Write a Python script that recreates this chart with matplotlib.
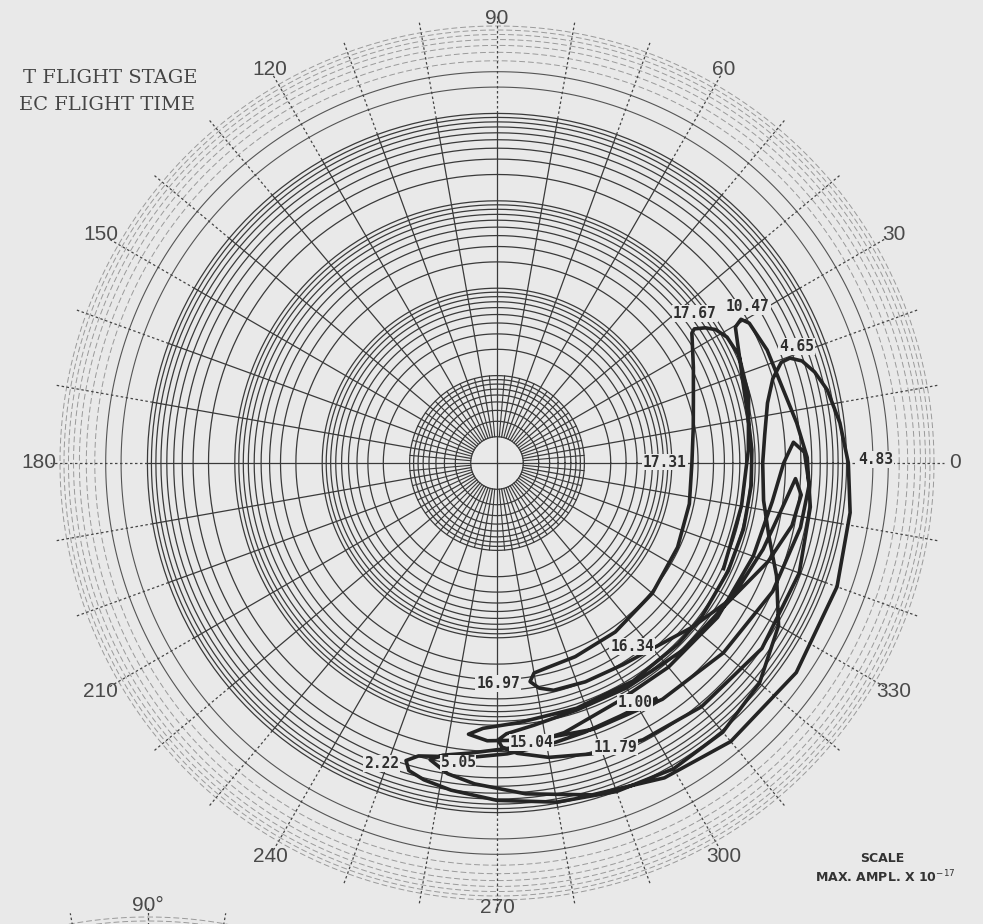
import numpy as np
import matplotlib.pyplot as plt

# ─── DATA ─────────────────────────────────────────────────────────────────────
# Trace: angle in degrees (kept continuous, negative = below the 0 line) and
# amplitude in decades from the centre of the log-polar chart.
trace_deg = [-56, -64, -72, -80, -88, -95, -101, -105, -107, -106, -103, -98,
             -90, -80, -70, -60, -50, -40, -30, -22, -15, -8, 0, 6, 12.5, 17,
             19.5, 19.7, 18.5, 16, 12.5, 6.7, 0, -8, -20, -35, -50, -62, -74,
             -85, -94, -99, -102.7, -100.5, -95, -86, -76, -63,
             -50, -35, -20, -8, 0, 4, 2, -4, -12, -25, -40, -55, -70, -82, -92,
             -96, -93, -85, -72, -58, -45,
             -37, -25, -15, -5, 3, 10.4, 18, 25, 29.7, 30.5, 29, 22.7, 15.8,
             7.6, 1, -8, -20, -35, -50, -62.2, -72, -80, -86, -89, -89.8, -88,
             -82, -72, -60, -45, -30, -18, -8, -3, -6, -12, -20, -30, -40,
             -48.2, -58, -68, -76, -79.4, -81.4, -80, -76, -68, -55, -40, -25,
             -12, 0, 10, 17.8, 26, 33.7, 34.2, 33, 31.4, 28.7, 24, 15, 3, -10,
             -25]
trace_dec = [3.25, 3.22, 3.24, 3.28, 3.33, 3.38, 3.42, 3.47, 3.56, 3.66, 3.72,
             3.78, 3.86, 3.94, 4.00, 4.04, 4.02, 3.92, 3.72, 3.45, 3.22, 3.08,
             3.04, 3.08, 3.17, 3.30, 3.45, 3.56, 3.68, 3.78, 3.87, 3.95, 4.02,
             4.08, 4.14, 4.18, 4.16, 4.08, 3.95, 3.80, 3.68, 3.60, 3.48, 3.40,
             3.33, 3.26, 3.18, 3.06,
             3.05, 3.08, 3.12, 3.18, 3.28, 3.40, 3.52, 3.58, 3.55, 3.48, 3.38,
             3.30, 3.24, 3.20, 3.18, 3.12, 3.04, 2.98, 2.95, 2.94, 2.93,
             2.93, 2.92, 2.92, 2.92, 2.92, 2.92, 2.96, 3.05, 3.14, 3.24, 3.30,
             3.35, 3.37, 3.46, 3.55, 3.62, 3.68, 3.70, 3.64, 3.58, 3.50, 3.42,
             3.33, 3.25, 3.17, 3.10, 3.03, 2.97, 2.97, 3.02, 3.10, 3.20, 3.32,
             3.42, 3.50, 3.45, 3.30, 3.10, 2.92, 2.79, 2.72, 2.70, 2.68, 2.62,
             2.53, 2.44, 2.41, 2.39, 2.36, 2.32, 2.28, 2.25, 2.23, 2.28, 2.36,
             2.50, 2.68, 2.73, 2.84, 2.93, 3.00, 3.03, 2.98, 2.88, 2.84, 2.86]

# flight-time marks along the trace (sec) and where they are lettered
time_labels = ["1.00", "2.22", "4.65", "4.83", "5.05", "10.47", "11.79",
               "15.04", "16.34", "16.97", "17.31", "17.67"]
time_deg = [300, 249, 21.3, 0.5, 262.6, 31.9, 292.6, 277, 306.3, 270.3, 0.3, 37.1]
time_dec = [3.16, 3.68, 3.68, 4.33, 3.46, 3.38, 3.52, 3.22, 2.61, 2.52, 1.92, 2.84]

angle_ticks = [0, 30, 60, 90, 120, 150, 180, 210, 240, 270, 300, 330]
n_decades = 5
sub_steps = [2, 3, 4, 5, 6, 7, 8, 9, 10]

BG = "#e9e9e9"
GRID = "#3a3a3a"
INK = "#242424"

assert len(trace_deg) == len(trace_dec)


# ─── HELPER ──────────────────────────────────────────────────────────────────
def draw_grid(ax, full=True):
    ring = np.radians(np.arange(0, 361, 1))
    for n in range(n_decades):
        for k in sub_steps:
            r = n + np.log10(k)
            if n < 4:
                ax.plot(ring, np.full_like(ring, r), color=GRID, lw=0.9, zorder=1)
            elif k <= 3:
                ax.plot(ring, np.full_like(ring, r), color="#555555", lw=0.8, zorder=1,
                        clip_on=False)
            else:
                ax.plot(ring, np.full_like(ring, r), color="#9a9a9a", lw=0.7,
                        ls=(0, (6, 3)), zorder=1, clip_on=False)
    if not full:
        return
    for a in range(0, 360, 10):
        t = np.radians(a)
        r0 = 0 if a % 90 == 0 else np.log10(2)
        ax.plot([t, t], [r0, 4.0], color=GRID, lw=0.9, zorder=1)
        ax.plot([t, t], [4.0, 5.12], color="#444444", lw=0.9, ls=(0, (2, 2)),
                zorder=1, clip_on=False)
    for a in range(5, 360, 10):
        t = np.radians(a)
        ax.plot([t, t], [np.log10(2), 1.0], color=GRID, lw=0.8, zorder=1)


# ─── FIGURE ──────────────────────────────────────────────────────────────────
fig = plt.figure(figsize=(9.83, 9.24), dpi=100, facecolor=BG)

# main log-polar chart, centre at (497, 463) px, 5 decades = 437 px
ax = fig.add_axes([60 / 983, 24 / 924, 874 / 983, 874 / 924], projection="polar")
ax.set_facecolor("none")
ax.set_ylim(0, n_decades)
ax.axis("off")
draw_grid(ax)

ax.plot(np.radians(trace_deg), trace_dec, color=INK, lw=2.6,
        solid_joinstyle="round", zorder=3)

for txt, d, r in zip(time_labels, time_deg, time_dec):
    ax.text(np.radians(d), r, txt, ha="center", va="center", fontsize=10.5,
            family="DejaVu Sans Mono", fontweight="bold", color="#2e2e2e",
            zorder=4, bbox=dict(facecolor=BG, edgecolor="none", pad=0.6))

for a in angle_ticks:
    r_lab = 5.24 - 0.15 * np.sin(np.radians(a)) ** 8
    ax.text(np.radians(a), r_lab, str(a), ha="center", va="center",
            fontsize=15, family="Liberation Sans", color="#4a4a4a")

# second chart below, mostly off the page
ax2 = fig.add_axes([(148 - 437) / 983, (924 - 1354 - 437) / 924, 874 / 983, 874 / 924],
                   projection="polar")
ax2.set_facecolor("none")
ax2.set_ylim(0, n_decades)
ax2.axis("off")
draw_grid(ax2)
ax2.text(np.radians(90), 5.13, "90°", ha="center", va="center",
         fontsize=15, family="Liberation Sans", color="#4a4a4a")

# ─── TEXT ────────────────────────────────────────────────────────────────────
fig.text(197 / 983, 1 - 83 / 924, "T FLIGHT STAGE", ha="right", va="baseline",
         fontsize=14, family="DejaVu Serif", color="#444444")
fig.text(195 / 983, 1 - 110 / 924, "EC FLIGHT TIME", ha="right", va="baseline",
         fontsize=14, family="DejaVu Serif", color="#444444")

fig.text(882 / 983, 1 - 858 / 924, "SCALE", ha="center", va="center",
         fontsize=9, fontweight="bold", color="#333333")
fig.text(885 / 983, 1 - 877 / 924, "MAX. AMPL. X 10$^{-17}$", ha="center",
         va="center", fontsize=9, fontweight="bold", color="#333333")

fig.savefig("out.png", dpi=100, facecolor=BG)
